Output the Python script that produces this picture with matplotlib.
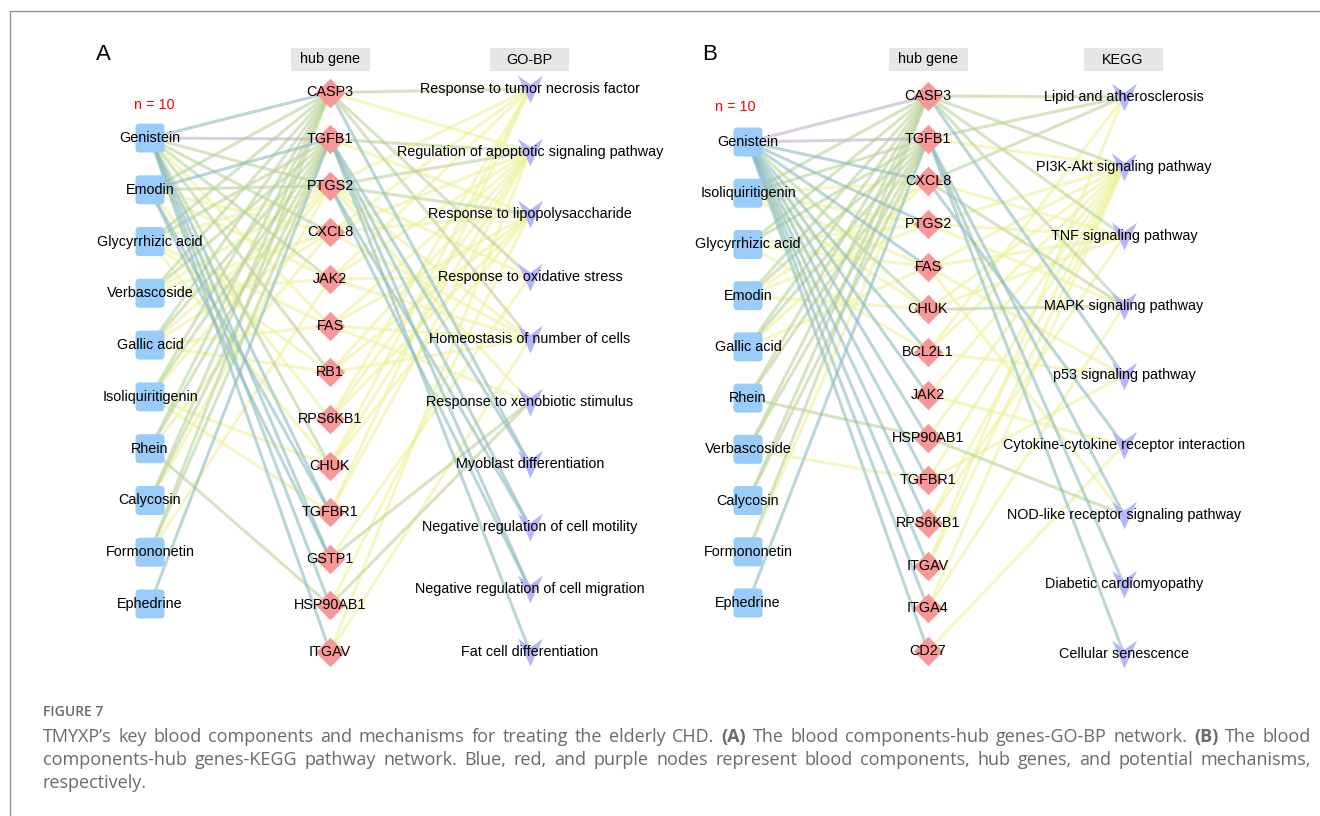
import numpy as np
import matplotlib.pyplot as plt
from matplotlib.patches import FancyBboxPatch, Rectangle
from matplotlib.path import Path

plt.rcParams['font.family'] = ['Liberation Sans', 'DejaVu Sans']

# ---------------- Panel A: components - hub genes - GO-BP ----------------
compounds_a = ["Genistein", "Emodin", "Glycyrrhizic acid", "Verbascoside", "Gallic acid",
               "Isoliquiritigenin", "Rhein", "Calycosin", "Formononetin", "Ephedrine"]
genes_a = ["CASP3", "TGFB1", "PTGS2", "CXCL8", "JAK2", "FAS", "RB1", "RPS6KB1",
           "CHUK", "TGFBR1", "GSTP1", "HSP90AB1", "ITGAV"]
terms_a = ["Response to tumor necrosis factor", "Regulation of apoptotic signaling pathway",
           "Response to lipopolysaccharide", "Response to oxidative stress",
           "Homeostasis of number of cells", "Response to xenobiotic stimulus",
           "Myoblast differentiation", "Negative regulation of cell motility",
           "Negative regulation of cell migration", "Fat cell differentiation"]

# (compound, gene, colour class)  p = purple, t = teal, g = green, y = yellow
edges_a_cg = [
    ("Genistein", "CASP3", "t"), ("Genistein", "TGFB1", "p"), ("Genistein", "PTGS2", "g"),
    ("Genistein", "CXCL8", "g"), ("Genistein", "JAK2", "g"), ("Genistein", "FAS", "y"),
    ("Genistein", "RB1", "g"), ("Genistein", "CHUK", "g"), ("Genistein", "TGFBR1", "t"),
    ("Genistein", "GSTP1", "t"), ("Genistein", "HSP90AB1", "t"), ("Genistein", "ITGAV", "t"),
    ("Emodin", "CASP3", "g"), ("Emodin", "TGFB1", "t"), ("Emodin", "PTGS2", "g"),
    ("Emodin", "CXCL8", "y"), ("Emodin", "JAK2", "y"), ("Emodin", "RPS6KB1", "y"),
    ("Emodin", "TGFBR1", "t"), ("Emodin", "GSTP1", "t"),
    ("Glycyrrhizic acid", "CASP3", "g"), ("Glycyrrhizic acid", "TGFB1", "g"),
    ("Glycyrrhizic acid", "PTGS2", "y"), ("Glycyrrhizic acid", "FAS", "y"),
    ("Glycyrrhizic acid", "RB1", "y"), ("Glycyrrhizic acid", "CHUK", "y"),
    ("Verbascoside", "CASP3", "g"), ("Verbascoside", "TGFB1", "g"),
    ("Verbascoside", "PTGS2", "y"), ("Verbascoside", "CXCL8", "y"), ("Verbascoside", "JAK2", "y"),
    ("Gallic acid", "CASP3", "g"), ("Gallic acid", "TGFB1", "g"), ("Gallic acid", "PTGS2", "y"),
    ("Gallic acid", "CXCL8", "y"), ("Gallic acid", "FAS", "y"), ("Gallic acid", "RB1", "y"),
    ("Isoliquiritigenin", "CASP3", "g"), ("Isoliquiritigenin", "TGFB1", "g"),
    ("Isoliquiritigenin", "PTGS2", "y"), ("Isoliquiritigenin", "CHUK", "y"),
    ("Isoliquiritigenin", "TGFBR1", "y"),
    ("Rhein", "CASP3", "g"), ("Rhein", "TGFB1", "g"), ("Rhein", "CXCL8", "y"),
    ("Rhein", "HSP90AB1", "g"),
    ("Calycosin", "CASP3", "g"), ("Calycosin", "TGFB1", "g"), ("Calycosin", "PTGS2", "y"),
    ("Formononetin", "CASP3", "g"), ("Formononetin", "TGFB1", "g"), ("Formononetin", "JAK2", "y"),
    ("Ephedrine", "TGFB1", "t"),
]

# (gene, term index, colour class)
edges_a_gt = [
    ("CASP3", 0, "g"), ("CASP3", 1, "y"), ("CASP3", 3, "g"), ("CASP3", 4, "g"), ("CASP3", 6, "t"),
    ("TGFB1", 1, "g"), ("TGFB1", 2, "y"), ("TGFB1", 6, "t"), ("TGFB1", 7, "t"),
    ("TGFB1", 8, "t"), ("TGFB1", 9, "t"),
    ("PTGS2", 0, "y"), ("PTGS2", 1, "g"), ("PTGS2", 2, "g"), ("PTGS2", 3, "y"),
    ("PTGS2", 4, "y"), ("PTGS2", 5, "y"), ("PTGS2", 7, "t"), ("PTGS2", 8, "t"),
    ("CXCL8", 0, "y"), ("CXCL8", 1, "y"), ("CXCL8", 2, "y"), ("CXCL8", 4, "y"),
    ("JAK2", 0, "y"), ("JAK2", 1, "y"), ("JAK2", 3, "y"), ("JAK2", 4, "y"),
    ("FAS", 1, "y"), ("FAS", 2, "y"), ("FAS", 4, "y"), ("FAS", 5, "y"),
    ("RB1", 1, "y"), ("RB1", 2, "y"), ("RB1", 4, "y"),
    ("RPS6KB1", 0, "y"), ("RPS6KB1", 1, "y"), ("RPS6KB1", 2, "y"),
    ("CHUK", 0, "y"), ("CHUK", 1, "y"), ("CHUK", 2, "y"),
    ("TGFBR1", 0, "y"), ("TGFBR1", 1, "y"),
    ("GSTP1", 5, "g"), ("GSTP1", 3, "y"),
    ("HSP90AB1", 5, "g"), ("HSP90AB1", 2, "y"),
    ("ITGAV", 1, "y"), ("ITGAV", 4, "y"),
]

# ---------------- Panel B: components - hub genes - KEGG ----------------
compounds_b = ["Genistein", "Isoliquiritigenin", "Glycyrrhizic acid", "Emodin", "Gallic acid",
               "Rhein", "Verbascoside", "Calycosin", "Formononetin", "Ephedrine"]
genes_b = ["CASP3", "TGFB1", "CXCL8", "PTGS2", "FAS", "CHUK", "BCL2L1", "JAK2",
           "HSP90AB1", "TGFBR1", "RPS6KB1", "ITGAV", "ITGA4", "CD27"]
terms_b = ["Lipid and atherosclerosis", "PI3K-Akt signaling pathway", "TNF signaling pathway",
           "MAPK signaling pathway", "p53 signaling pathway",
           "Cytokine-cytokine receptor interaction", "NOD-like receptor signaling pathway",
           "Diabetic cardiomyopathy", "Cellular senescence"]

edges_b_cg = [
    ("Genistein", "CASP3", "p"), ("Genistein", "TGFB1", "p"), ("Genistein", "CXCL8", "t"),
    ("Genistein", "PTGS2", "t"), ("Genistein", "FAS", "t"), ("Genistein", "CHUK", "g"),
    ("Genistein", "BCL2L1", "t"), ("Genistein", "JAK2", "t"), ("Genistein", "HSP90AB1", "t"),
    ("Genistein", "TGFBR1", "t"), ("Genistein", "RPS6KB1", "t"), ("Genistein", "ITGAV", "t"),
    ("Genistein", "ITGA4", "t"), ("Genistein", "CD27", "t"),
    ("Isoliquiritigenin", "CASP3", "g"), ("Isoliquiritigenin", "TGFB1", "g"),
    ("Isoliquiritigenin", "CXCL8", "y"), ("Isoliquiritigenin", "PTGS2", "y"),
    ("Isoliquiritigenin", "FAS", "y"), ("Isoliquiritigenin", "CHUK", "y"),
    ("Glycyrrhizic acid", "CASP3", "g"), ("Glycyrrhizic acid", "TGFB1", "g"),
    ("Glycyrrhizic acid", "PTGS2", "y"), ("Glycyrrhizic acid", "FAS", "y"),
    ("Glycyrrhizic acid", "BCL2L1", "y"),
    ("Emodin", "CASP3", "g"), ("Emodin", "TGFB1", "g"), ("Emodin", "CXCL8", "y"),
    ("Emodin", "PTGS2", "y"), ("Emodin", "CHUK", "y"),
    ("Gallic acid", "CASP3", "g"), ("Gallic acid", "TGFB1", "g"), ("Gallic acid", "CXCL8", "y"),
    ("Gallic acid", "FAS", "y"),
    ("Rhein", "CASP3", "g"), ("Rhein", "TGFB1", "g"), ("Rhein", "HSP90AB1", "g"),
    ("Verbascoside", "CASP3", "g"), ("Verbascoside", "TGFB1", "g"), ("Verbascoside", "TGFBR1", "y"),
    ("Calycosin", "CASP3", "g"), ("Calycosin", "TGFB1", "g"),
    ("Formononetin", "CASP3", "g"), ("Formononetin", "TGFB1", "y"),
    ("Ephedrine", "TGFB1", "t"),
]

edges_b_gt = [
    ("CASP3", 0, "g"), ("CASP3", 1, "g"), ("CASP3", 2, "g"), ("CASP3", 3, "g"), ("CASP3", 4, "t"),
    ("TGFB1", 0, "g"), ("TGFB1", 1, "y"), ("TGFB1", 6, "t"), ("TGFB1", 7, "t"), ("TGFB1", 8, "t"),
    ("CXCL8", 0, "g"), ("CXCL8", 2, "y"), ("CXCL8", 3, "g"), ("CXCL8", 5, "t"),
    ("PTGS2", 1, "y"), ("PTGS2", 2, "y"), ("PTGS2", 3, "y"),
    ("FAS", 1, "y"), ("FAS", 2, "y"), ("FAS", 4, "y"), ("FAS", 6, "y"),
    ("CHUK", 1, "y"), ("CHUK", 2, "y"), ("CHUK", 3, "g"),
    ("BCL2L1", 0, "y"), ("BCL2L1", 1, "y"), ("BCL2L1", 4, "y"),
    ("JAK2", 1, "y"), ("JAK2", 5, "y"),
    ("HSP90AB1", 1, "y"), ("HSP90AB1", 6, "g"),
    ("TGFBR1", 1, "y"), ("TGFBR1", 4, "y"),
    ("RPS6KB1", 1, "y"), ("RPS6KB1", 2, "y"),
    ("ITGAV", 0, "y"), ("ITGAV", 1, "y"),
    ("ITGA4", 1, "y"), ("ITGA4", 3, "y"),
    ("CD27", 5, "y"),
]

caption_head = "FIGURE 7"
caption_lines = [
    "TMYXP’s key blood components and mechanisms for treating the elderly CHD. (A) The blood "
    "components-hub genes-GO-BP network. (B) The blood",
    "components-hub genes-KEGG pathway network. Blue, red, and purple nodes represent blood "
    "components, hub genes, and potential mechanisms,",
    "respectively.",
]
bold_words = ["(A)", "(B)"]

edge_colors = {"p": "#c2aecb", "t": "#8dbcbf", "g": "#bad49a", "y": "#eef29a"}
comp_color = "#99ccf8"
gene_color = "#f79797"
term_color = "#b6b6f8"

# V-shaped marker for the pathway nodes
v_marker = Path([(-0.9, 1.0), (0.0, 0.35), (0.9, 1.0), (0.0, -1.0), (-0.9, 1.0)],
                [Path.MOVETO, Path.LINETO, Path.LINETO, Path.LINETO, Path.CLOSEPOLY])

fig = plt.figure(figsize=(13.2, 8.16), dpi=100)
ax = fig.add_axes([0, 0, 1, 1])
ax.set_xlim(0, 1320)
ax.set_ylim(816, 0)
ax.axis('off')


def draw_panel(letter, header, compounds, genes, terms, e_cg, e_gt, xs, comp_y, gene_y, term_y, n_pos):
    cx, gx, tx = xs
    cy = dict(zip(compounds, np.linspace(comp_y[0], comp_y[1], len(compounds))))
    gy = dict(zip(genes, np.linspace(gene_y[0], gene_y[1], len(genes))))
    ty = np.linspace(term_y[0], term_y[1], len(terms))

    # edges (yellow first so stronger colours sit on top)
    order = {"y": 0, "g": 1, "t": 2, "p": 3}
    for c, g, k in sorted(e_cg, key=lambda e: order[e[2]]):
        ax.plot([cx, gx], [cy[c], gy[g]], color=edge_colors[k], lw=2.2, alpha=0.6,
                solid_capstyle='butt', zorder=1)
    for g, t, k in sorted(e_gt, key=lambda e: order[e[2]]):
        ax.plot([gx, tx], [gy[g], ty[t]], color=edge_colors[k], lw=2.2, alpha=0.6,
                solid_capstyle='butt', zorder=1)

    # compound nodes
    for name, y in cy.items():
        ax.add_patch(FancyBboxPatch((cx - 11, y - 11), 22, 22,
                                    boxstyle="round,pad=3.5,rounding_size=4",
                                    fc=comp_color, ec='none', zorder=2))
        ax.text(cx, y, name, ha='center', va='center', fontsize=10.4, zorder=3)

    # hub genes
    ax.scatter([gx] * len(genes), list(gy.values()), marker='D', s=15 ** 2,
               c=gene_color, linewidths=0, zorder=2)
    for name, y in gy.items():
        ax.text(gx, y, name, ha='center', va='center', fontsize=10.4, zorder=3)

    # pathway / GO terms
    ax.scatter([tx] * len(terms), ty, marker=v_marker, s=20 ** 2,
               c=term_color, linewidths=0, zorder=2)
    for name, y in zip(terms, ty):
        ax.text(tx, y, name, ha='center', va='center', fontsize=10.4, zorder=3)

    # column headers
    for x, label in [(gx, "hub gene"), (tx - 1, header)]:
        ax.add_patch(Rectangle((x - 39.5, 48), 79, 23, fc='#e6e6e6', ec='none', zorder=2))
        ax.text(x, 59.5, label, ha='center', va='center', fontsize=10.4, zorder=3)

    ax.text(letter[1], 55, letter[0], ha='center', va='center', fontsize=16)
    ax.text(n_pos[0], n_pos[1], "n = 10", ha='center', va='center', fontsize=10.4, color='red')


draw_panel(("A", 103), "GO-BP", compounds_a, genes_a, terms_a, edges_a_cg, edges_a_gt,
           (150, 330, 530), (138, 604), (92.5, 652), (89, 652), (154, 105))
draw_panel(("B", 710), "KEGG", compounds_b, genes_b, terms_b, edges_b_cg, edges_b_gt,
           (748, 928, 1124), (142, 603), (96, 651), (97, 654), (735, 107))

# frame lines round the figure
ax.plot([9.5, 9.5, 1320], [816, 10.5, 10.5], color='#8a8a8a', lw=0.9, zorder=0)

# caption
cap_font = ['Open Sans', 'DejaVu Sans']
cap_color = '#6a6a6a'
ax.text(43, 712, caption_head, ha='left', va='center', fontsize=10, color=cap_color,
        family=cap_font, fontweight='semibold')

renderer = fig.canvas.get_renderer()
x_left, x_right = 43, 1311
for i, line in enumerate(caption_lines):
    y = 737 + i * 23
    words = line.split(" ")
    items = []
    for w in words:
        t = ax.text(0, y, w, ha='left', va='center', fontsize=13, color=cap_color,
                    family=cap_font, fontweight='bold' if w in bold_words else 'normal')
        items.append((t, t.get_window_extent(renderer).width))
    space = 4.5
    if i < len(caption_lines) - 1:
        gap = (x_right - x_left - sum(wd for _, wd in items)) / (len(items) - 1)
    else:
        gap = space
    x = x_left
    for t, wd in items:
        t.set_x(x)
        x += wd + gap

fig.savefig("out.png", dpi=100)
